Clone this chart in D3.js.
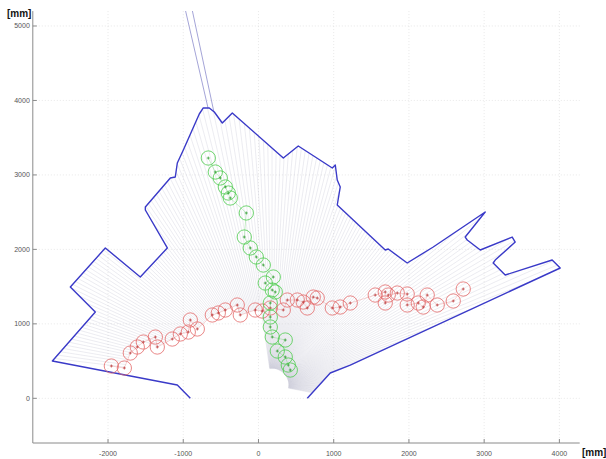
<!DOCTYPE html>
<html><head><meta charset="utf-8">
<script src="https://cdn.jsdelivr.net/npm/d3@7"></script>
<style>body{margin:0;background:#fff}svg{display:block}</style>
</head><body><svg id="c" width="606" height="459"></svg>
<script>
// ---- data (mm) ----
const xTicks = [-2000, -1000, 0, 1000, 2000, 3000, 4000];
const yTicks = [0, 1000, 2000, 3000, 4000, 5000];
const xDomain = [-3000, 4270];
const yDomain = [-600, 5200];
const sensorX = 180, sensorY = 180;
const minRange = 220;
// scan boundary (wall) points in scan order
const wallX = [649, 954, 1220, 4011, 3904, 3280, 3120, 3147, 3413, 3373, 2948, 2775, 2748, 3014, 2323, 1977, 1725, 1685, 1047, 1087, 1047, 1021, 981, 529, 330, -348, -481, -587, -654, -734, -787, -999, -1079, -1106, -1172, -1504, -1504, -1212, -1571, -2036, -2501, -2169, -2740, -1079, -906];
const wallY = [0, 340, 447, 1750, 1857, 1656, 1817, 1857, 2099, 2166, 1992, 2126, 2166, 2502, 2032, 1817, 2005, 1992, 2596, 2838, 2932, 3133, 3093, 3388, 3227, 3832, 3697, 3845, 3899, 3899, 3818, 3335, 3160, 2972, 2959, 2569, 2529, 2019, 1629, 2019, 1495, 1159, 501, 179, 0];
// out-of-range returns
const farX = [-966, -1064];
const farY = [5618, 5618];
// beam angles (deg)
const beamDeg = [-11,-10,-9,-8,-7,-6,-5,-4,-3,-2,-1,0,1,2,3,4,5,6,7,8,9,10,11,12,13,14,15,16,17,18,19,20,21,22,23,24,25,26,27,28,29,30,31,32,33,34,35,36,37,38,39,40,41,42,43,44,45,46,47,48,49,50,51,52,53,54,55,56,57,58,59,60,61,62,63,64,65,66,67,68,69,70,71,72,73,74,75,76,77,78,79,80,81,82,83,84,85,86,87,88,89,90,91,92,93,94,95,96,97,98,99,100,101,102,103,104,105,106,107,108,109,110,111,112,113,114,115,116,117,118,119,120,121,122,123,124,125,126,127,128,129,130,131,132,133,134,135,136,137,138,139,140,141,142,143,144,145,146,147,148,149,150,151,152,153,154,155,156,157,158,159,160,161,162,163,164,165,166,167,168,169,170,171,172,173,174,175,176,177,178,179,180,181,182,183,184,185,186,187];
const occludedFromDeg = 99;
// detected legs: red track
const redX = [-1956, -1783, -1704, -1611, -1531, -1371, -1345, -1146, -1039, -933, -906, -813, -614, -534, -441, -282, -242, -43, 50, 157, 330, 383, 516, 595, 649, 728, 781, 981, 1087, 1220, 1552, 1685, 1685, 1725, 1845, 1977, 1977, 2124, 2190, 2243, 2376, 2589, 2722];
const redY = [434, 407, 608, 689, 756, 823, 689, 796, 864, 890, 1052, 931, 1119, 1146, 1186, 1253, 1119, 1186, 1172, 1213, 1186, 1320, 1320, 1293, 1213, 1360, 1347, 1213, 1226, 1280, 1387, 1428, 1280, 1387, 1414, 1401, 1253, 1280, 1226, 1387, 1253, 1307, 1468];
// green track
const greenX = [-667, -574, -508, -441, -401, -375, -162, -189, -109, -29, 64, 197, 90, 183, 223, 157, 157, 157, 183, 356, 250, 356, 396, 423];
const greenY = [3227, 3039, 2959, 2838, 2757, 2690, 2489, 2166, 2019, 1898, 1790, 1629, 1548, 1454, 1428, 1280, 1092, 958, 823, 783, 635, 555, 447, 380];
const legRadius = 95;

// ---- layout ----
const L = 32.8, R = 579.7, T = 11.1, B = 443;
const x = d3.scaleLinear().domain(xDomain).range([L, R]);
const y = d3.scaleLinear().domain(yDomain).range([B, T]);
const svg = d3.select("#c");
svg.append("defs").append("clipPath").attr("id", "clip")
  .append("rect").attr("x", L).attr("y", T).attr("width", R - L).attr("height", B - T);

// grid
const grid = svg.append("g");
grid.selectAll(".gx").data(xTicks).join("line")
  .attr("x1", d => x(d)).attr("x2", d => x(d)).attr("y1", T).attr("y2", B)
  .attr("stroke", "#d8d8d8").attr("stroke-width", 0.6).attr("stroke-dasharray", "1,2");
grid.selectAll(".gy").data(yTicks).join("line")
  .attr("y1", d => y(d)).attr("y2", d => y(d)).attr("x1", L).attr("x2", R)
  .attr("stroke", "#d8d8d8").attr("stroke-width", 0.6).attr("stroke-dasharray", "1,2");

const plot = svg.append("g").attr("clip-path", "url(#clip)");

const wall = wallX.map((v, i) => [v, wallY[i]]);
const redPts = redX.map((v, i) => [v, redY[i]]);
function firstHit(poly, dx, dy) {
  let best = Infinity;
  for (let i = 0; i < poly.length - 1; i++) {
    const [x1, y1] = poly[i], [x2, y2] = poly[i + 1];
    const ex = x2 - x1, ey = y2 - y1;
    const den = dx * ey - dy * ex;
    if (Math.abs(den) < 1e-9) continue;
    const qx = x1 - sensorX, qy = y1 - sensorY;
    const t = (qx * ey - qy * ex) / den;
    const u = (qx * dy - qy * dx) / den;
    if (t > 0 && u >= 0 && u <= 1 && t < best) best = t;
  }
  return best;
}
const rays = [];
beamDeg.forEach(deg => {
  const a = deg * Math.PI / 180, dx = Math.cos(a), dy = Math.sin(a);
  const tEnd = firstHit(wall, dx, dy);
  if (!isFinite(tEnd)) return;
  let tStart = Math.min(minRange, tEnd);
  if (deg >= occludedFromDeg) {
    const tr = firstHit(redPts, dx, dy);
    if (!(isFinite(tr) && tr < tEnd)) return;
    tStart = tr;
  }
  rays.push([sensorX + tStart * dx, sensorY + tStart * dy, sensorX + tEnd * dx, sensorY + tEnd * dy]);
});
plot.append("g").selectAll("line").data(rays).join("line")
  .attr("x1", d => x(d[0])).attr("y1", d => y(d[1]))
  .attr("x2", d => x(d[2])).attr("y2", d => y(d[3]))
  .attr("stroke", "#a6a6bf").attr("stroke-opacity", 0.4).attr("stroke-width", 0.55);
// out-of-range beams, drawn beyond the wall
const farRays = farX.map((v, i) => {
  const dx0 = v - sensorX, dy0 = farY[i] - sensorY, n = Math.hypot(dx0, dy0);
  const t = firstHit(wall, dx0 / n, dy0 / n);
  const s = isFinite(t) ? t : 0;
  return [sensorX + s * dx0 / n, sensorY + s * dy0 / n, v, farY[i]];
});
plot.append("g").selectAll("line").data(farRays).join("line")
  .attr("x1", d => x(d[0])).attr("y1", d => y(d[1]))
  .attr("x2", d => x(d[2])).attr("y2", d => y(d[3]))
  .attr("stroke", "#9a9ad2").attr("stroke-width", 0.9);

// wall
plot.append("path").datum(wall)
  .attr("d", d3.line().x(d => x(d[0])).y(d => y(d[1])))
  .attr("fill", "none").attr("stroke", "#3a3ac8").attr("stroke-width", 1.4)
  .attr("stroke-linejoin", "round");

// tracks
function track(pts, col, dark) {
  const g = plot.append("g");
  g.append("path").datum(pts)
    .attr("d", d3.line().x(d => x(d[0])).y(d => y(d[1])))
    .attr("fill", "none").attr("stroke", col).attr("stroke-width", 0.5).attr("stroke-opacity", 0.6);
  const r = x(legRadius) - x(0);
  g.selectAll("circle").data(pts).join("circle")
    .attr("cx", d => x(d[0])).attr("cy", d => y(d[1])).attr("r", r)
    .attr("fill", "none").attr("stroke", col).attr("stroke-width", 0.8);
  g.selectAll(".m").data(pts).join("path")
    .attr("d", d => { const cx = x(d[0]), cy = y(d[1]); return `M${cx-1.5},${cy}H${cx+1.5}M${cx},${cy-1.5}V${cy+1.5}`; })
    .attr("stroke", dark).attr("stroke-width", 0.7);
}
track(redPts, "#e36a6a", "#b83030");
track(greenX.map((v, i) => [v, greenY[i]]), "#4ccc4c", "#2a9a2a");

// axes
const ax = svg.append("g").attr("stroke", "#8a8a8a").attr("stroke-width", 1);
ax.append("line").attr("x1", L).attr("x2", L).attr("y1", T).attr("y2", B);
ax.append("line").attr("x1", L).attr("x2", R).attr("y1", B).attr("y2", B);
ax.selectAll(".tx").data(xTicks).join("line")
  .attr("x1", d => x(d)).attr("x2", d => x(d)).attr("y1", B).attr("y2", B - 4);
ax.selectAll(".ty").data(yTicks).join("line")
  .attr("y1", d => y(d)).attr("y2", d => y(d)).attr("x1", L).attr("x2", L + 4);

const lab = svg.append("g").attr("font-family", "Liberation Sans, Arial, sans-serif")
  .attr("font-size", 7).attr("fill", "#555");
lab.selectAll(".lx").data(xTicks).join("text")
  .attr("x", d => x(d)).attr("y", 456).attr("text-anchor", "middle").text(d => d);
lab.selectAll(".ly").data(yTicks).join("text")
  .attr("x", L - 3).attr("y", d => y(d) + 2.5).attr("text-anchor", "end").text(d => d);

svg.append("text").attr("x", 7).attr("y", 17).attr("font-family", "Liberation Sans, Arial, sans-serif")
  .attr("font-size", 10).attr("font-weight", "bold").attr("fill", "#111").text("[mm]");
svg.append("text").attr("x", 582).attr("y", 456).attr("font-family", "Liberation Sans, Arial, sans-serif")
  .attr("font-size", 10).attr("font-weight", "bold").attr("fill", "#111").text("[mm]");
</script></body></html>
